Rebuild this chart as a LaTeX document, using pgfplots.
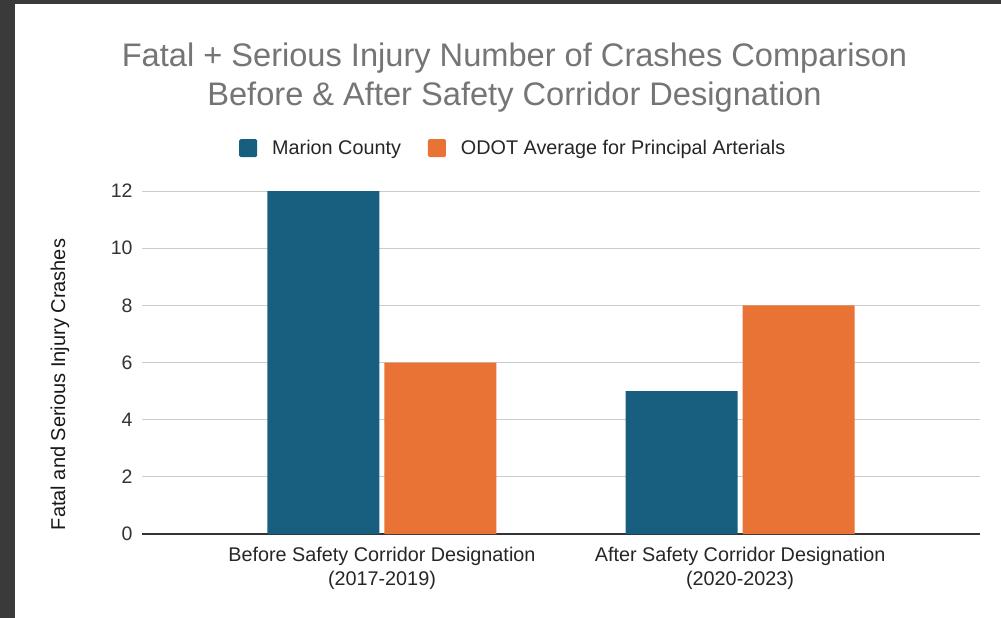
\documentclass[border=0pt]{standalone}
\usepackage{pgfplots}
\pgfplotsset{compat=1.18}
\usepackage{fontspec}
\setmainfont{Liberation Sans}
\definecolor{mblue}{HTML}{185E7F}
\definecolor{morange}{HTML}{E97334}
\definecolor{titlegray}{HTML}{757575}
\definecolor{gridgray}{HTML}{CCCCCC}
\definecolor{framedark}{HTML}{3A3A3A}
\definecolor{ticktext}{HTML}{333333}
\begin{document}
\begin{tikzpicture}
\useasboundingbox (0,0) rectangle (1001bp,-618bp);
\fill[framedark] (0,0) rectangle (1001bp,-618bp);
\fill[white] (15bp,-4bp) rectangle (1001bp,-618bp);
\node[align=center, text=titlegray, font=\fontsize{32.6bp}{39bp}\selectfont] at (514.5bp,-78bp)
  {Fatal + Serious Injury Number of Crashes Comparison\\Before \& After Safety Corridor Designation};
\begin{axis}[
  at={(142bp,-534bp)}, anchor=south west,
  width=838bp, height=343bp, scale only axis,
  xmin=-0.67, xmax=1.67, ymin=0, ymax=12,
  ybar=5bp, bar width=112bp,
  xtick={0,1},
  xticklabels={{Before Safety Corridor Designation\\(2017-2019)},{After Safety Corridor Designation\\(2020-2023)}},
  xticklabel style={align=center, text=black!85, yshift=-10bp, font=\fontsize{19.8bp}{24bp}\selectfont},
  ytick={0,2,4,6,8,10,12},
  yticklabel style={text=ticktext, xshift=-6bp, font=\fontsize{19.5bp}{24bp}\selectfont},
  /pgf/number format/assume math mode=true,
  major tick length=0pt,
  axis lines*=left,
  y axis line style={draw=none},
  x axis line style={draw=black!80, line width=1.3bp},
  ymajorgrids, major grid style={draw=gridgray, line width=1bp},
  ylabel={Fatal and Serious Injury Crashes},
  ylabel style={at={(axis description cs:-0.0979,0.436)}, anchor=center, font=\fontsize{20bp}{24bp}\selectfont, text=black!90},
  legend columns=2,
  legend style={at={(axis description cs:0.443,1.125)}, anchor=center, draw=none, fill=none,
    font=\fontsize{19.8bp}{24bp}\selectfont, text=black!85,
    /tikz/every even column/.append style={column sep=25bp}},
  legend image code/.code={\draw[#1,draw=none,rounded corners=1.5bp] (0bp,-9bp) rectangle (18bp,9bp); \path (31bp,0bp);},
]
\addplot[fill=mblue, draw=none] coordinates {(0,12) (1,5)};
\addplot[fill=morange, draw=none] coordinates {(0,6) (1,8)};
\legend{Marion County, ODOT Average for Principal Arterials}
\end{axis}
\end{tikzpicture}
\end{document}
